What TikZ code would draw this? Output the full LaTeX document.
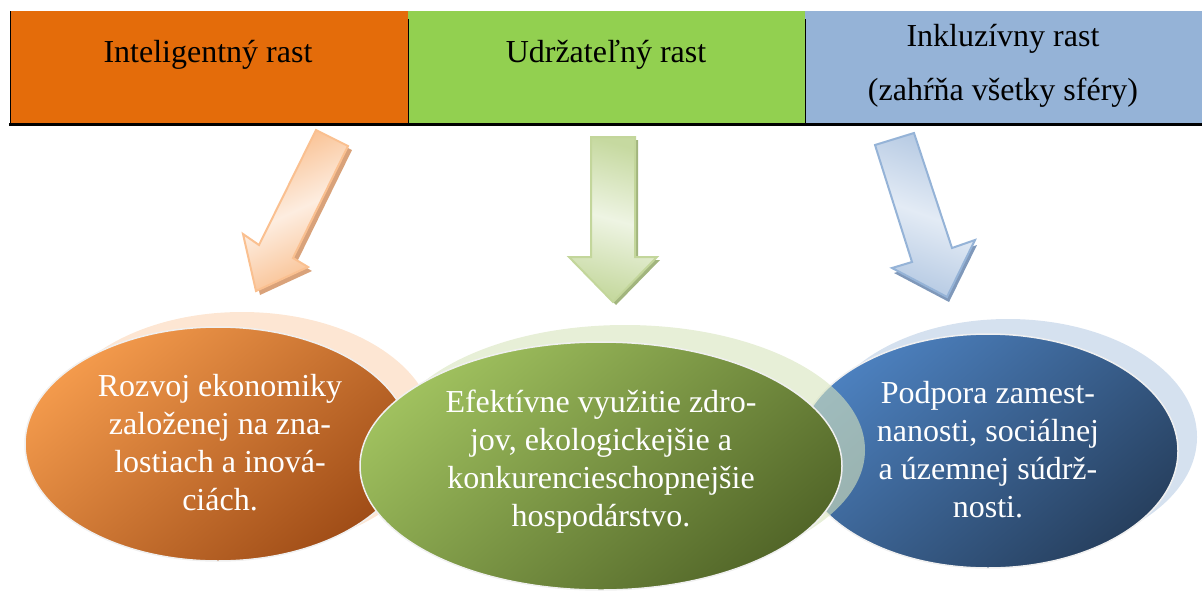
\documentclass[tikz,border=0pt]{standalone}
\usepackage{fontspec}
\setmainfont{Liberation Serif}
\definecolor{hOrange}{HTML}{E46C0A}
\definecolor{hGreen}{HTML}{92D050}
\definecolor{hBlue}{HTML}{95B3D7}
\definecolor{oLight}{HTML}{F39A4C}
\definecolor{oDark}{HTML}{A04D17}
\definecolor{gLight}{HTML}{9FC05E}
\definecolor{gDark}{HTML}{536729}
\definecolor{bLight}{HTML}{4C80BE}
\definecolor{bDark}{HTML}{27405F}
\definecolor{oShadow}{HTML}{FBD5B5}
\definecolor{gShadow}{HTML}{D7E4BD}
\definecolor{bShadow}{HTML}{B9CDE5}
\definecolor{oArrA}{HTML}{FDEDE0}
\definecolor{oArrB}{HTML}{F9BE8D}
\definecolor{oArrLine}{HTML}{FAC090}
\definecolor{oArrSh}{HTML}{D9A27A}
\definecolor{gArrA}{HTML}{EEF4E3}
\definecolor{gArrB}{HTML}{C6D9A0}
\definecolor{gArrLine}{HTML}{C3D69B}
\definecolor{gArrSh}{HTML}{A2B57E}
\definecolor{bArrA}{HTML}{E3EBF5}
\definecolor{bArrB}{HTML}{B6CAE3}
\definecolor{bArrLine}{HTML}{95B3D7}
\definecolor{bArrSh}{HTML}{7F98BA}
\definecolor{ovalLine}{HTML}{F0F0F0}
\tikzset{
  hdrtext/.style={text=black, align=center, font=\fontsize{32}{54}\selectfont, inner sep=0pt},
  ovaltext/.style={text=white, align=center, font=\fontsize{32}{38}\selectfont, inner sep=0pt},
  ovalshadow/.style={fill opacity=0.6},
  ovalbody/.style={draw=ovalLine, line width=1.5pt},
  arrline/.style={line width=2pt, line join=miter},
}
\begin{document}
\begin{tikzpicture}[x=1pt,y=-1pt]
\useasboundingbox (0,0) rectangle (1202,592);
% header
\fill[hOrange] (10,11) rectangle (408,124);
\fill[hGreen] (408,11) rectangle (805,124);
\fill[hBlue] (805,11) rectangle (1202,124);
\draw[black, line width=1pt] (10,11) -- (10,124);
\draw[black, line width=1pt] (408,19) -- (408,124);
\draw[black, line width=1pt] (805,19) -- (805,124);
\draw[black, line width=3pt] (9,124.5) -- (1202,124.5);
\node[hdrtext] (h1) at (208,55) {Inteligentný rast};
\node[hdrtext] (h2) at (606,55) {Udržateľný rast};
\node[hdrtext] (h3) at (1003,66) {Inkluzívny rast\\(zahŕňa všetky sféry)};
% arrows: shadows
\fill[oArrSh] ([shift={(4,4)}]316,130) -- ([shift={(4,4)}]348,146) -- ([shift={(4,4)}]293,258) -- ([shift={(4,4)}]308,267) -- ([shift={(4,4)}]256,291) -- ([shift={(4,4)}]243,234) -- ([shift={(4,4)}]259,245) -- cycle;
\fill[gArrSh] (594,140) -- (638,140) -- (638,260) -- (660,260) -- (616,305) -- (572,260) -- (594,260) -- cycle;
\fill[bArrSh] (877,150) -- (916,138) -- (954,253) -- (977,245) -- (949,302) -- (894,273) -- (914,267) -- cycle;
% arrows
\draw[arrline, draw=oArrLine, left color=oArrB, right color=oArrB, middle color=oArrA, shading angle=25]
  (316,130) -- (348,146) -- (293,258) -- (308,267) -- (256,291) -- (243,234) -- (259,245) -- cycle;
\draw[arrline, draw=gArrLine, left color=gArrB, right color=gArrB, middle color=gArrA, shading angle=-15]
  (591,137) -- (635,137) -- (635,257) -- (657,257) -- (613,302) -- (569,257) -- (591,257) -- cycle;
\draw[arrline, draw=bArrLine, left color=bArrB, right color=bArrB, middle color=bArrA, shading angle=-20]
  (875,145) -- (914,133) -- (952,248) -- (975,240) -- (947,297) -- (892,268) -- (912,262) -- cycle;
% ovals
\fill[oShadow, ovalshadow] (242,431) ellipse [x radius=192pt, y radius=119pt];
\draw[ovalbody, top color=oLight, bottom color=oDark, shading angle=40] (218,444) ellipse [x radius=193pt, y radius=117pt];
\fill[bShadow, ovalshadow] (1008,437) ellipse [x radius=189pt, y radius=118pt];
\draw[ovalbody, top color=bLight, bottom color=bDark, shading angle=40] (988,451) ellipse [x radius=190pt, y radius=117pt];
\fill[gShadow, ovalshadow] (625,450) ellipse [x radius=240pt, y radius=125pt];
\draw[ovalbody, top color=gLight, bottom color=gDark, shading angle=40] (601,466) ellipse [x radius=241pt, y radius=124pt];
% oval texts
\node[ovaltext] (t1) at (220,443) {Rozvoj ekonomiky\\založenej na zna-\\lostiach a inová-\\ciách.};
\node[ovaltext] (t2) at (601,462) {Efektívne využitie zdro-\\jov, ekologickejšie a\\konkurencieschopnejšie\\hospodárstvo.};
\node[ovaltext] (t3) at (988,450) {Podpora zamest-\\nanosti, sociálnej\\a územnej súdrž-\\nosti.};
\end{tikzpicture}
\end{document}
